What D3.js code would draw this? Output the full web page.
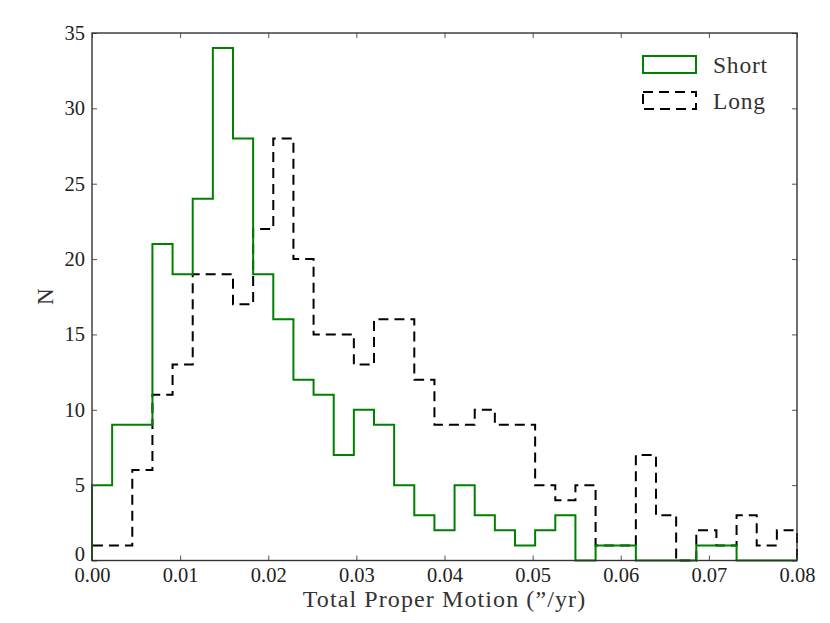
<!DOCTYPE html>
<html>
<head>
<meta charset="utf-8">
<script src="https://cdn.jsdelivr.net/npm/d3@7"></script>
<style>
  body { margin: 0; background: #fff; }
  text { font-family: "Liberation Serif", "DejaVu Serif", serif; }
</style>
</head>
<body>
<div id="chart"></div>
<script>
// 35 equal bins from 0 to 0.08
const nBins = 35;
const xMax = 0.08;

// counts per bin
const shortCounts = [5, 9, 9, 21, 19, 24, 34, 28, 19, 16, 12, 11, 7, 10, 9, 5, 3, 2, 5, 3, 2, 1, 2, 3, 0, 1, 1, 0, 0, 0, 1, 1, 0, 0, 0];
const longCounts = [1, 1, 6, 11, 13, 19, 19, 17, 22, 28, 20, 15, 15, 13, 16, 16, 12, 9, 9, 10, 9, 9, 5, 4, 5, 1, 1, 7, 3, 0, 2, 1, 3, 1, 2];

const xTicks = [0, 0.01, 0.02, 0.03, 0.04, 0.05, 0.06, 0.07, 0.08];
const yTicks = [0, 5, 10, 15, 20, 25, 30, 35];

const W = 830, H = 623;
const margin = {top: 33, right: 33, bottom: 62.5, left: 92};
const width = W - margin.left - margin.right,
      height = H - margin.top - margin.bottom;

const svg = d3.select("#chart").append("svg")
    .attr("width", W)
    .attr("height", H);

const g = svg.append("g")
    .attr("transform", "translate(" + margin.left + "," + margin.top + ")");

const x = d3.scaleLinear().domain([0, xMax]).range([0, width]);
const y = d3.scaleLinear().domain([0, 35]).range([height, 0]);

const binW = xMax / nBins;

// step outline of a histogram, like histtype='step'
function stepLine(counts) {
  const pts = [[0, 0]];
  counts.forEach((c, i) => {
    pts.push([i * binW, c]);
    pts.push([(i + 1) * binW, c]);
  });
  pts.push([xMax, 0]);
  return d3.line().x(d => x(d[0])).y(d => y(d[1]))(pts);
}

g.append("path")
    .attr("d", stepLine(longCounts))
    .attr("fill", "none")
    .attr("stroke", "#000")
    .attr("stroke-width", 2)
    .attr("stroke-dasharray", "10,6");

g.append("path")
    .attr("d", stepLine(shortCounts))
    .attr("fill", "none")
    .attr("stroke", "#008000")
    .attr("stroke-width", 2);

// axes with inward ticks, on all four sides
const tickLen = 5;
g.append("g")
    .attr("class", "xaxis")
    .attr("transform", "translate(0," + height + ")")
    .call(d3.axisBottom(x).tickValues(xTicks).tickFormat(d3.format(".2f")).tickSizeInner(-tickLen).tickSizeOuter(0).tickPadding(7));
g.append("g")
    .call(d3.axisTop(x).tickValues(xTicks).tickFormat("").tickSizeInner(-tickLen).tickSizeOuter(0));
g.append("g")
    .attr("class", "yaxis")
    .call(d3.axisLeft(y).tickValues(yTicks).tickSizeInner(-tickLen).tickSizeOuter(0).tickPadding(7));
g.append("g")
    .attr("transform", "translate(" + width + ",0)")
    .call(d3.axisRight(y).tickValues(yTicks).tickFormat("").tickSizeInner(-tickLen).tickSizeOuter(0));

g.selectAll(".domain").remove();
g.selectAll(".tick line").attr("stroke", "#555");
g.selectAll(".tick text")
    .attr("fill", "#222")
    .style("font-size", "20.5px")
    .style("font-family", '"Liberation Serif", serif');
// lift the "0" on the y axis so it clears "0.00"
g.select(".yaxis").selectAll(".tick text").filter(d => d === 0).attr("dy", "-0.02em");

// frame
g.append("rect")
    .attr("width", width)
    .attr("height", height)
    .attr("fill", "none")
    .attr("stroke", "#333")
    .attr("stroke-width", 1.4);

// axis labels
svg.append("text")
    .attr("x", margin.left + width / 2)
    .attr("y", 607)
    .attr("text-anchor", "middle")
    .style("font-size", "24px")
    .style("letter-spacing", "1.1px")
    .attr("fill", "#333")
    .text("Total Proper Motion (\u201D/yr)");

svg.append("text")
    .attr("transform", "translate(53," + (margin.top + height / 2) + ") rotate(-90)")
    .attr("text-anchor", "middle")
    .style("font-size", "23px")
    .attr("fill", "#333")
    .text("N");

// legend
const legend = [
  {name: "Short", color: "#008000", dash: null},
  {name: "Long", color: "#000", dash: "10,6"}
];
const lg = svg.append("g").attr("transform", "translate(643,56)");
legend.forEach((d, i) => {
  lg.append("rect")
      .attr("x", 0)
      .attr("y", i * 36)
      .attr("width", 53)
      .attr("height", 17)
      .attr("fill", "none")
      .attr("stroke", d.color)
      .attr("stroke-width", 2)
      .attr("stroke-dasharray", d.dash);
  lg.append("text")
      .attr("x", 70)
      .attr("y", i * 36 + 17)
      .style("font-size", "23.5px")
      .style("letter-spacing", "0.8px")
      .attr("fill", "#333")
      .text(d.name);
});
</script>
</body>
</html>
